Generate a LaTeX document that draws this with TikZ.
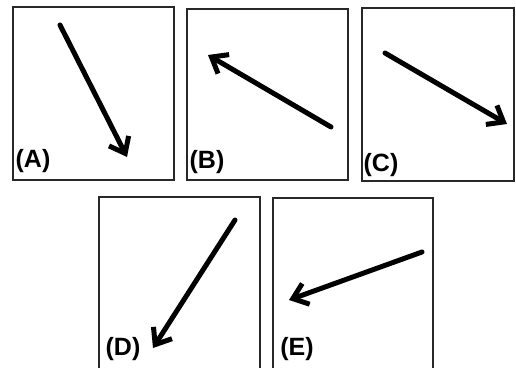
\documentclass[tikz,border=0pt]{standalone}
\usepackage{fontspec}
\setmainfont{Liberation Sans}
\usetikzlibrary{arrows.meta}
\definecolor{panelgray}{RGB}{40,40,40}
\tikzset{
    panel/.style={draw=panelgray, line width=1.6pt, fill=white},
    dirarrow/.style={line width=5pt, line cap=round, -{Straight Barb[length=14pt, width=22pt, line width=5pt]}},
    panellabel/.style={font=\fontsize{25}{25}\selectfont\bfseries, inner sep=0pt},
}
\begin{document}
\begin{tikzpicture}[x=1pt, y=-1pt]
    \useasboundingbox (0,0) rectangle (516,367);
    \fill[white] (0,0) rectangle (516,367);
    % Panels: name / box corners / tail / tip / label
    \foreach \n/\xa/\ya/\xb/\yb/\tx/\ty/\hx/\hy/\lx/\ly in {
        A/13/7/174/180/60/25/127/157/33/161,
        B/187/9/348/180/331/127/208/55/207/162,
        C/362/8/514/181/385/53/507/124/381/165,
        D/99/197/260/370/235/220/153/348/123/349,
        E/273/198/433/370/422/252/289/300/297/349} {
        \draw[panel] (\xa,\ya) rectangle (\xb,\yb);
        \coordinate (tail\n) at (\tx,\ty);
        \coordinate (tip\n) at (\hx,\hy);
        \draw[dirarrow] (tail\n) -- (tip\n);
        \node[panellabel] (lab\n) at (\lx,\ly) {(\n)};
    }
\end{tikzpicture}
\end{document}
